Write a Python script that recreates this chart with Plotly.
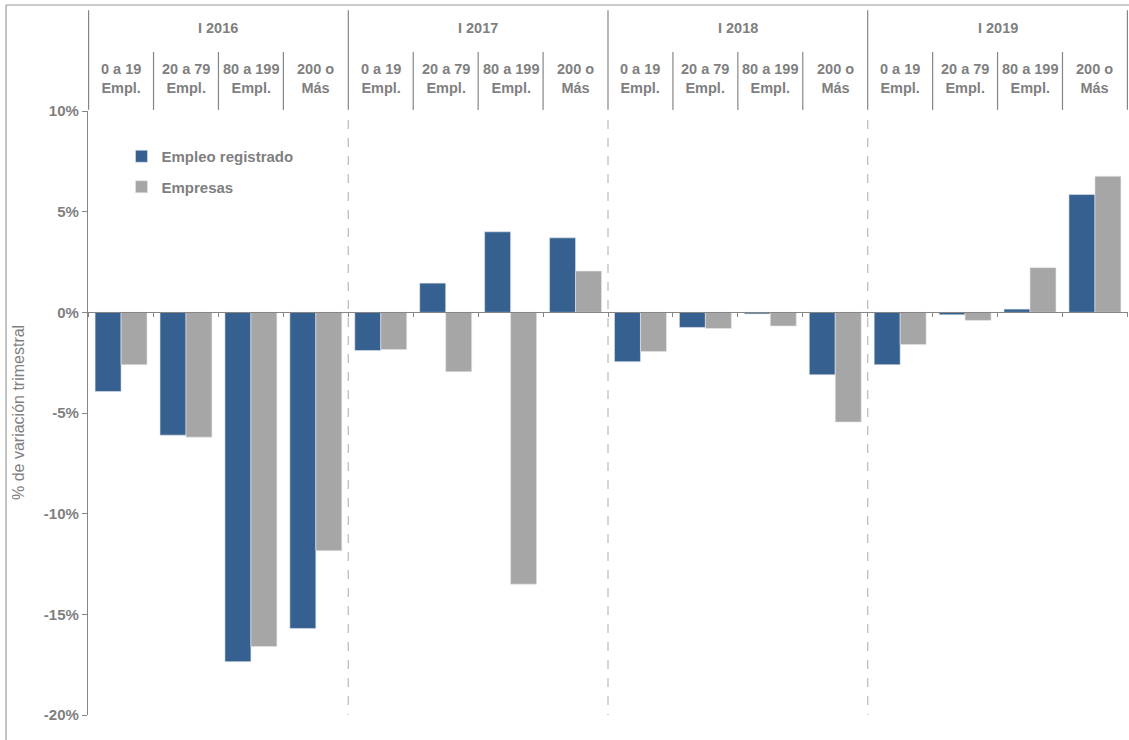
import plotly.graph_objects as go

# Data (% variación trimestral)
years = ['I 2016', 'I 2017', 'I 2018', 'I 2019']
sizes = ['0 a 19<br>Empl.', '20 a 79<br>Empl.', '80 a 199<br>Empl.', '200 o<br>Más']
empleo = [-3.93, -6.1, -17.35, -15.7,
          -1.9, 1.45, 4.0, 3.7,
          -2.45, -0.75, -0.08, -3.1,
          -2.6, -0.12, 0.16, 5.85]
empresas = [-2.6, -6.2, -16.6, -11.84,
            -1.85, -2.95, -13.5, 2.05,
            -1.95, -0.8, -0.68, -5.45,
            -1.6, -0.4, 2.22, 6.76]
y_ticks = [-20, -15, -10, -5, 0, 5, 10]

categories = [f'{y} | {s}' for y in years for s in sizes]

FONT = 'Liberation Sans, Arial, sans-serif'
TEXT_GRAY = '#7f7f7f'
LINE_GRAY = '#868686'
BLUE = '#35608f'
GRAY = '#a6a6a6'

fig = go.Figure()
fig.add_trace(go.Bar(x=categories, y=empleo, name='Empleo registrado',
                     marker=dict(color=BLUE, line=dict(color='#dfe4ec', width=0.6)),
                     legendgroup='a'))
fig.add_trace(go.Bar(x=categories, y=empresas, name='Empresas',
                     marker=dict(color=GRAY, line=dict(color='#e6e6e6', width=0.6)),
                     legendgroup='b'))

header_font = dict(family=FONT, size=14.5, color=TEXT_GRAY, weight='bold')
shapes = []
annotations = []
n_sizes = len(sizes)
# header: year blocks and size sub-columns
for i, year in enumerate(years):
    start = i * n_sizes - 0.5
    annotations.append(dict(x=start + n_sizes / 2, y=1.137, xref='x', yref='paper',
                            xanchor='center', yanchor='middle',
                            text=year, showarrow=False, font=header_font))
    for j, size in enumerate(sizes):
        annotations.append(dict(x=i * n_sizes + j, y=1.053, xref='x', yref='paper',
                                xanchor='center', yanchor='middle',
                                text=size, showarrow=False, font=header_font))
        if j > 0:
            shapes.append(dict(type='line', xref='x', yref='paper',
                               x0=start + j, x1=start + j, y0=1.0017, y1=1.0977,
                               line=dict(color=LINE_GRAY, width=1.2)))
# year boundary lines in header, dashed separators in the plot
for k in range(len(years) + 1):
    xb = k * n_sizes - 0.5
    shapes.append(dict(type='line', xref='x', yref='paper', x0=xb, x1=xb,
                       y0=1.002, y1=1.167, line=dict(color=LINE_GRAY, width=1.2)))
    if 0 < k < len(years):
        shapes.append(dict(type='line', xref='x', yref='y', x0=xb, x1=xb,
                           y0=9.55, y1=-20, line=dict(color='#bfbfbf', width=1.3, dash='dash')))

# outer frame (top and left edges visible)
shapes.append(dict(type='line', xref='paper', yref='paper', x0=-0.0788, x1=1.01,
                   y0=1.1755, y1=1.1755, line=dict(color='#9a9a9a', width=1.2)))
shapes.append(dict(type='line', xref='paper', yref='paper', x0=-0.0788, x1=-0.0788,
                   y0=1.1755, y1=-0.05, line=dict(color='#9a9a9a', width=1.2)))

annotations.append(dict(x=-0.0673, y=0.5, xref='paper', yref='paper',
                        xanchor='center', yanchor='middle',
                        text='% de variación trimestral', textangle=-90, showarrow=False,
                        font=dict(family=FONT, size=16, color=TEXT_GRAY)))

fig.update_layout(
    width=1129, height=740,
    margin=dict(l=88, r=1, t=111, b=25),
    plot_bgcolor='white', paper_bgcolor='white',
    barmode='group', bargap=0.2, bargroupgap=0,
    showlegend=True,
    legend=dict(x=0.0322, y=0.952, xanchor='left', yanchor='top',
                bgcolor='rgba(0,0,0,0)', tracegroupgap=8, traceorder='grouped',
                font=dict(family=FONT, size=15, color=TEXT_GRAY, weight='bold')),
    xaxis=dict(type='category', showticklabels=False, showgrid=False,
               anchor='free', position=20 / 30, showline=True,
               linecolor=LINE_GRAY, linewidth=1.2,
               ticks='outside', tickson='boundaries', ticklen=4,
               tickcolor=LINE_GRAY, zeroline=False),
    yaxis=dict(range=[-20, 10], tickvals=y_ticks,
               ticktext=['%d%%' % v for v in y_ticks],
               showgrid=False, zeroline=False, showline=True,
               linecolor=LINE_GRAY, linewidth=1.2,
               ticks='outside', ticklen=5, tickcolor=LINE_GRAY,
               tickfont=dict(family=FONT, size=15, color=TEXT_GRAY, weight='bold')),
    shapes=shapes,
    annotations=annotations,
)

# drop the default page margin so the figure sits at the window's top-left corner
fig.write_html('out.html', config={'displayModeBar': False},
               post_script="document.body.style.margin='0';")
